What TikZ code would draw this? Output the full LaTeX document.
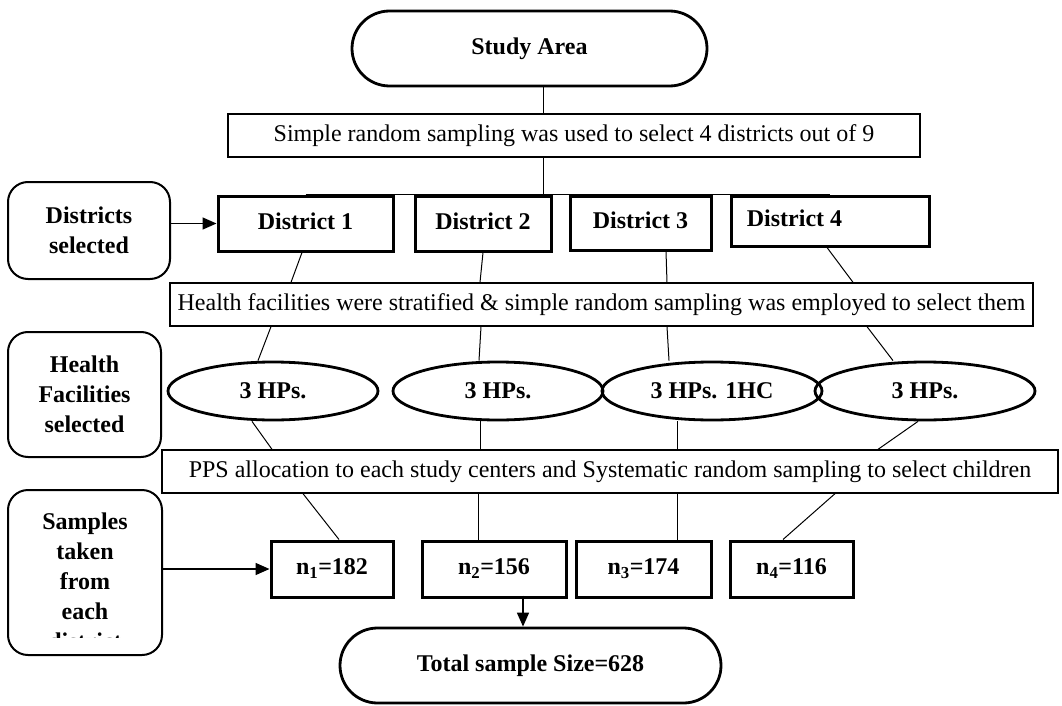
\documentclass[tikz,border=0pt]{standalone}
\usepackage{fontspec}
\setmainfont{Liberation Serif}
\usetikzlibrary{positioning,shapes.misc,shapes.geometric,arrows.meta}

\begin{document}
\begin{tikzpicture}[x=1pt, y=-1pt, font=\fontsize{24}{30}\selectfont,
  term/.style = {draw, rounded rectangle, line width=2.8pt, inner sep=0pt, font=\fontsize{24}{30}\selectfont\bfseries},
  note/.style = {draw, line width=1.3pt, inner sep=0pt, minimum height=43pt},
  dist/.style = {draw, line width=3pt, inner sep=0pt, text height=16pt, text depth=5pt, font=\fontsize{24}{30}\selectfont\bfseries},
  hfac/.style = {draw, ellipse, line width=2.8pt, inner sep=0pt, minimum height=58pt, font=\fontsize{24}{30}\selectfont\bfseries},
  side/.style = {draw, rounded corners=20pt, line width=2pt, inner sep=0pt, align=center, font=\fontsize{24}{30}\selectfont\bfseries},
  link/.style = {line width=1pt},
  arr/.style = {line width=1.6pt, -{Triangle[length=14pt,width=12pt]}}]
            \useasboundingbox (0,0) rectangle (1062,706);
            % Nodes
            \node[term, minimum width=355pt, minimum height=75pt] (study) at (529.5,48.5) {Study Area};
            \node[note, minimum width=692pt] (srs) at (574,135.5) {Simple random sampling was used to select 4 districts out of 9};
            \node[dist, minimum width=175pt, minimum height=55pt] (d1) at (305.5,223.5) {District 1};
            \node[dist, minimum width=136pt, minimum height=55pt] (d2) at (483,223.5) {District 2};
            \node[dist, minimum width=141pt, minimum height=54pt] (d3) at (640.5,223) {District 3};
            \node[dist, minimum width=198pt, minimum height=50pt] (d4) at (830,221) {District 4\hspace*{71pt}};
            \node[side, minimum width=162pt, minimum height=97pt] (dsel) at (89,230.5) {Districts\\selected};
            \node[note, minimum width=863pt] (strat) at (601.5,304.5) {Health facilities were stratified \& simple random sampling was employed to select them};
            \node[side, minimum width=153pt, minimum height=125pt] (fsel) at (84.5,394.5) {Health\\Facilities\\selected};
            \node[hfac, minimum width=210pt] (e1) at (273,391) {3 HPs.};
            \node[hfac, minimum width=210pt] (e2) at (498,391) {3 HPs.};
            \node[hfac, minimum width=220pt] (e3) at (712,391) {3 HPs. 1HC};
            \node[hfac, minimum width=220pt] (e4) at (925,391) {3 HPs.};
            \node[note, minimum width=896pt] (pps) at (610,471.5) {PPS allocation to each study centers and Systematic random sampling to select children};
            \node[dist, minimum width=122pt, minimum height=56pt] (n1) at (332,569) {n\textsubscript{1}=182};
            \node[dist, minimum width=144pt, minimum height=56pt] (n2) at (494,569) {n\textsubscript{2}=156};
            \node[dist, minimum width=135pt, minimum height=56pt] (n3) at (643.5,569) {n\textsubscript{3}=174};
            \node[dist, minimum width=123pt, minimum height=56pt] (n4) at (791.5,569) {n\textsubscript{4}=116};
            \node[side, minimum width=154pt, minimum height=165pt] (ssel) at (85,572.5) {};
            \begin{scope}
              \clip (8,490) rectangle (162,637);
              \node[align=center, inner sep=0pt, font=\fontsize{24}{30}\selectfont\bfseries] at (85,581) {Samples\\taken\\from\\each\\district};
            \end{scope}
            \node[term, minimum width=381pt, minimum height=75pt] (total) at (530.5,665.5) {Total sample Size=628};
            \coordinate (spine) at (543,0);
            % Edges
            \draw[link] (study.south -| spine) -- (srs.north -| spine);
            \draw[link] (srs.south -| spine) -- (d1.north -| spine);
            \draw[link] (d1.north) -- (d4.north);
            \draw[arr] (dsel.east |- d1.west) -- (d1.west);
            \draw[link] (d1.south -| 302,0) -- (strat.north -| 291,0);
            \draw[link] (d2.south -| 483,0) -- (strat.north -| 480,0);
            \draw[link] (d3.south -| 666,0) -- (strat.north -| 667,0);
            \draw[link] (d4.south -| 827,0) -- (strat.north -| 853,0);
            \draw[link] (strat.south -| 271,0) -- (e1.north -| 258,0);
            \draw[link] (strat.south -| 481,0) -- (e2.north -| 479,0);
            \draw[link] (strat.south -| 667,0) -- (e3.north -| 669,0);
            \draw[link] (strat.south -| 867,0) -- (e4.north -| 893,0);
            \draw[link] (e1.south -| 252,0) -- (pps.north -| 272,0);
            \draw[link] (e2.south -| 480,0) -- (pps.north -| 480,0);
            \draw[link] (e3.south -| 677,0) -- (pps.north -| 677,0);
            \draw[link] (e4.south -| 918,0) -- (pps.north -| 878,0);
            \draw[link] (pps.south -| 303,0) -- (n1.north -| 339,0);
            \draw[link] (pps.south -| 478,0) -- (n2.north -| 478,0);
            \draw[link] (pps.south -| 677,0) -- (n3.north -| 677,0);
            \draw[link] (pps.south -| 835,0) -- (n4.north -| 783,0);
            \draw[arr] (ssel.east |- n1.west) -- (n1.west);
            \draw[arr] ([yshift=3pt]n2.south -| 523,0) -- (total.north -| 523,0);
\end{tikzpicture}
\end{document}
